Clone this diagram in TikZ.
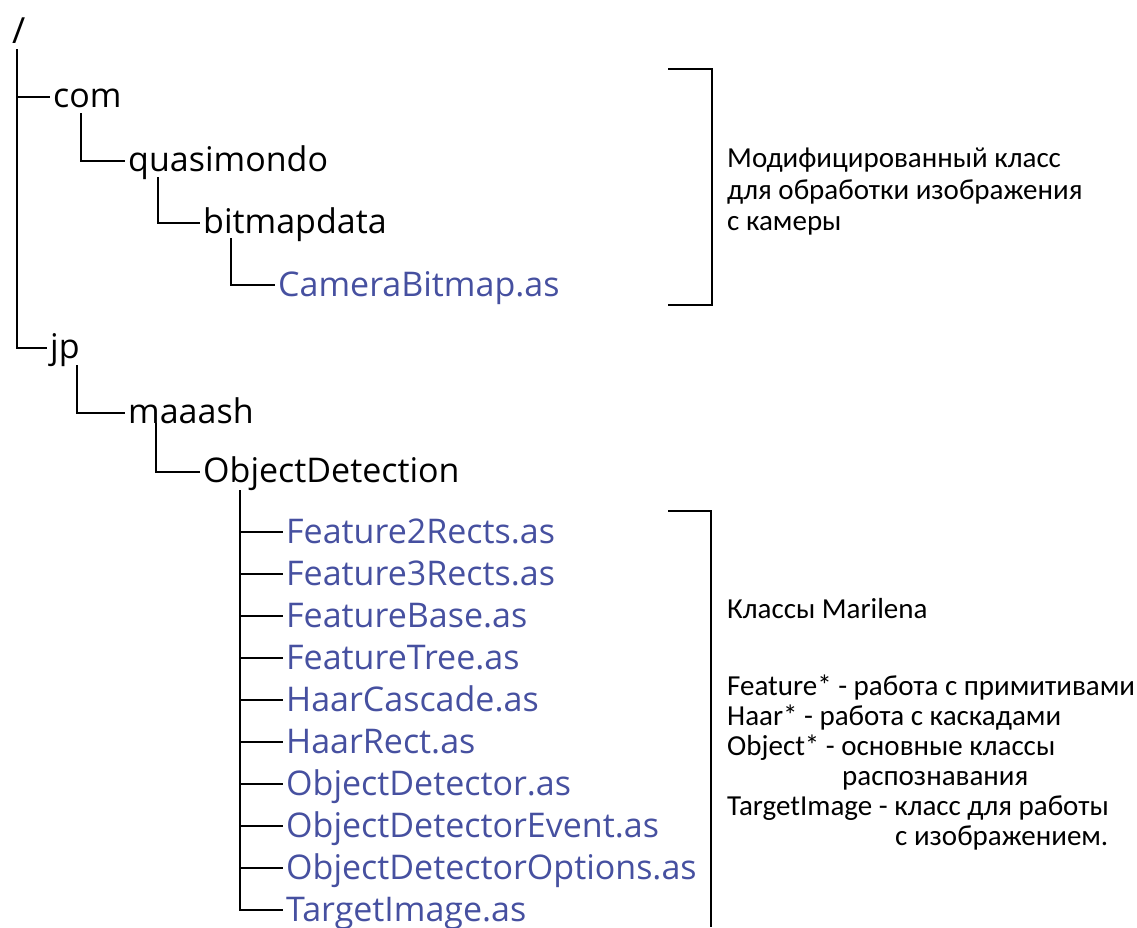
\documentclass[tikz,border=0pt]{standalone}
\usepackage{fontspec}
\setmainfont{Open Sans}
\newfontfamily\notefont{Carlito}
\definecolor{fileblue}{RGB}{70,80,160}
\begin{document}
\begin{tikzpicture}[x=1pt,y=-1pt,
  treeline/.style={line width=1.8pt,black},
  dir/.style={anchor=west,inner xsep=3pt,inner ysep=0pt,text height=26pt,text depth=6pt,
    font=\fontsize{34}{40}\selectfont,text=black},
  file/.style={dir,text height=30pt,text depth=7pt,text=fileblue},
  note/.style={anchor=base west,inner sep=0pt,font=\notefont\fontsize{29}{34}\selectfont,text=black}]
\useasboundingbox (0,0) rectangle (1137,927);
% root
\node[anchor=base west,inner sep=0pt,font=\fontsize{36}{40}\selectfont] (root) at (12,43) {/};
\coordinate (rtop) at (17,49);
% com branch
\node[dir] (com) at (50,97) {com};
\node[dir] (quasi) at (125,161) {quasimondo};
\node[dir] (bmd) at (200,223) {bitmapdata};
\node[file] (cam) at (275,285) {CameraBitmap.as};
% jp branch
\node[dir] (jp) at (47,348) {jp};
\node[dir] (maaash) at (125,413) {maaash};
\node[dir] (od) at (200,472) {ObjectDetection};
\foreach \n/\t [count=\i from 0] in {f1/Feature2Rects.as,f2/Feature3Rects.as,f3/FeatureBase.as,
  f4/FeatureTree.as,f5/HaarCascade.as,f6/HaarRect.as,f7/ObjectDetector.as,
  f8/ObjectDetectorEvent.as,f9/ObjectDetectorOptions.as,f10/TargetImage.as}
  \node[file] (\n) at (283,532+42*\i) {\t};
% vertical start points
\coordinate (c1) at (81,113);
\coordinate (c2) at (158,177);
\coordinate (c3) at (231,238);
\coordinate (c4) at (77,365);
\coordinate (c5) at (156,423);
\coordinate (c6) at (240,490);
% connectors
\draw[treeline] (rtop) |- (com.west);
\draw[treeline] (rtop) |- (jp.west);
\draw[treeline] (c1) |- (quasi.west);
\draw[treeline] (c2) |- (bmd.west);
\draw[treeline] (c3) |- (cam.west);
\draw[treeline] (c4) |- (maaash.west);
\draw[treeline] (c5) |- (od.west);
\foreach \n in {f1,f2,f3,f4,f5,f6,f7,f8,f9,f10}
  \draw[treeline] (c6) |- (\n.west);
% brackets
\coordinate (b1a) at (668,69);
\coordinate (b1b) at (668,305);
\draw[treeline,line width=1.5pt] (b1a) -| (712,187) |- (b1b);
\coordinate (b2a) at (668,511);
\coordinate (b2b) at (711,927);
\draw[treeline,line width=1.5pt] (b2a) -| (b2b);
% notes
\node[note] (n1) at (727,167) {Модифицированный класс};
\node[note] (n2) at (727,199) {для обработки изображения};
\node[note] (n3) at (727,230) {с камеры};
\node[note] (m1) at (727,618) {Классы Marilena};
\node[note] (m2) at (727,695) {Feature* - работа с примитивами};
\node[note] (m3) at (727,725) {Haar* - работа с каскадами};
\node[note] (m4) at (727,755) {Object* - основные классы};
\node[note] (m5) at (842,785) {распознавания};
\node[note] (m6) at (727,815) {TargetImage - класс для работы};
\node[note] (m7) at (895,845) {с изображением.};
\end{tikzpicture}
\end{document}
